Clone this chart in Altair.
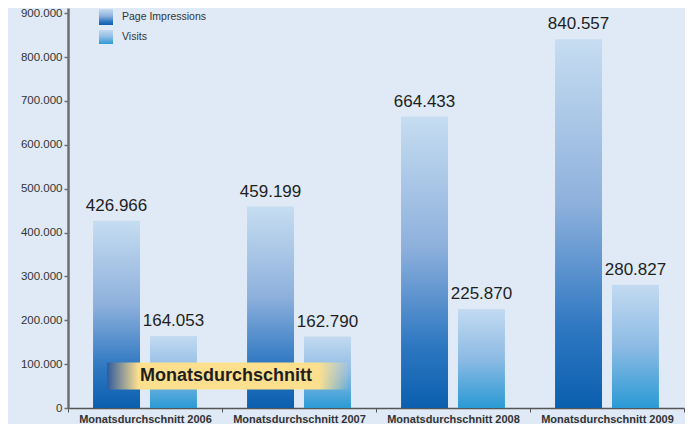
import altair as alt
import pandas as pd

categories = ["Monatsdurchschnitt 2006", "Monatsdurchschnitt 2007",
              "Monatsdurchschnitt 2008", "Monatsdurchschnitt 2009"]
page_impressions = [426966, 459199, 664433, 840557]
visits = [164053, 162790, 225870, 280827]
series_names = ["Page Impressions", "Visits"]
y_ticks = [0, 100000, 200000, 300000, 400000, 500000, 600000, 700000, 800000, 900000]
banner_text = "Monatsdurchschnitt"
banner_range = [42000, 104000]


def de(v):
    return f"{v:,}".replace(",", ".")


rows = []
for c, p, v in zip(categories, page_impressions, visits):
    rows.append({"cat": c, "series": series_names[0], "value": p, "label": de(p)})
    rows.append({"cat": c, "series": series_names[1], "value": v, "label": de(v)})
df = pd.DataFrame(rows)

BG = "#dfeaf6"
FONT = "Liberation Sans"

pi_grad = alt.Gradient(gradient="linear", x1=0, x2=0, y1=0, y2=1, stops=[
    alt.GradientStop(offset=0, color="#c6ddf1"),
    alt.GradientStop(offset=0.45, color="#8db0dc"),
    alt.GradientStop(offset=0.78, color="#2f78c2"),
    alt.GradientStop(offset=1, color="#0a5fae"),
])
vi_grad = alt.Gradient(gradient="linear", x1=0, x2=0, y1=0, y2=1, stops=[
    alt.GradientStop(offset=0, color="#c3daf1"),
    alt.GradientStop(offset=0.5, color="#8dbbe4"),
    alt.GradientStop(offset=1, color="#2a9ad5"),
])

x_enc = alt.X("cat:N", sort=categories, title=None,
              scale=alt.Scale(paddingInner=0, paddingOuter=0),
              axis=alt.Axis(labelAngle=0, labelFont=FONT, labelFontSize=11,
                            labelFontWeight="bold", labelColor="#333333",
                            domainColor="#555555", domainWidth=1.5,
                            tickColor="#555555", tickSize=4, tickBand="extent",
                            labelPadding=1))
xoff = alt.XOffset("series:N", sort=series_names,
                   scale=alt.Scale(domain=series_names, paddingInner=0.175, paddingOuter=0.44))
y_scale = alt.Scale(domain=[0, 912000], nice=False)
y_enc = alt.Y("value:Q", title=None, scale=y_scale,
              axis=alt.Axis(values=y_ticks, grid=False,
                            labelExpr="replace(format(datum.value, ','), ',', '.')",
                            labelFont=FONT, labelFontSize=11.5, labelColor="#333333",
                            domainColor="#6f6f6f", domainWidth=2.5,
                            tickColor="#6f6f6f", tickSize=4, tickWidth=1.5,
                            labelPadding=2))

base = alt.Chart(df)
pi_bars = base.transform_filter(alt.datum.series == series_names[0]).mark_bar(
    color=pi_grad).encode(x=x_enc, xOffset=xoff, y=y_enc)
vi_bars = base.transform_filter(alt.datum.series == series_names[1]).mark_bar(
    color=vi_grad).encode(x=x_enc, xOffset=xoff, y=y_enc)
labels = base.mark_text(baseline="bottom", dy=-6, font=FONT,
                        fontSize=17, color="#1e1e1e").encode(
    x=x_enc, xOffset=xoff, y=y_enc, text="label:N")

banner_df = pd.DataFrame({"y0": [banner_range[0]], "y1": [banner_range[1]],
                          "ym": [(banner_range[0] + banner_range[1]) / 2],
                          "t": [banner_text]})
banner_grad = alt.Gradient(gradient="linear", x1=0, x2=1, y1=0, y2=0, stops=[
    alt.GradientStop(offset=0, color="#2f5a9e"),
    alt.GradientStop(offset=0.13, color="#fde08e"),
    alt.GradientStop(offset=0.87, color="#fde08e"),
    alt.GradientStop(offset=1, color="rgba(253,224,142,0)"),
])
banner = alt.Chart(banner_df).mark_rect(color=banner_grad).encode(
    x=alt.value(39), x2=alt.value(282),
    y=alt.Y("y1:Q", scale=y_scale), y2="y0:Q")
banner_txt = alt.Chart(banner_df).mark_text(
    font=FONT, fontSize=18, fontWeight="bold", color="#1e1e1e", baseline="middle").encode(
    x=alt.value(158), y=alt.Y("ym:Q", scale=y_scale), text="t:N")

leg_df = pd.DataFrame({"name": series_names})
leg_pi = alt.Chart(leg_df).transform_filter(alt.datum.name == series_names[0]).mark_rect(
    color=pi_grad).encode(x=alt.value(31), x2=alt.value(45), y=alt.value(1), y2=alt.value(17))
leg_vi = alt.Chart(leg_df).transform_filter(alt.datum.name == series_names[1]).mark_rect(
    color=vi_grad).encode(x=alt.value(31), x2=alt.value(45), y=alt.value(22), y2=alt.value(36))
leg_t1 = alt.Chart(leg_df).transform_filter(alt.datum.name == series_names[0]).mark_text(
    align="left", baseline="middle", font=FONT, fontSize=10.5, color="#333333").encode(
    x=alt.value(54), y=alt.value(9), text="name:N")
leg_t2 = alt.Chart(leg_df).transform_filter(alt.datum.name == series_names[1]).mark_text(
    align="left", baseline="middle", font=FONT, fontSize=10.5, color="#333333").encode(
    x=alt.value(54), y=alt.value(29), text="name:N")

chart = alt.layer(pi_bars, vi_bars, labels, banner, banner_txt,
                  leg_pi, leg_vi, leg_t1, leg_t2).properties(
    width=616, height=400,
    autosize=alt.AutoSizeParams(type="none"),
    padding={"left": 60, "top": 0, "right": 1, "bottom": 16},
    background=BG,
).configure_view(stroke=None)

chart.save("out.html", embed_options={"renderer": "svg", "actions": False})
